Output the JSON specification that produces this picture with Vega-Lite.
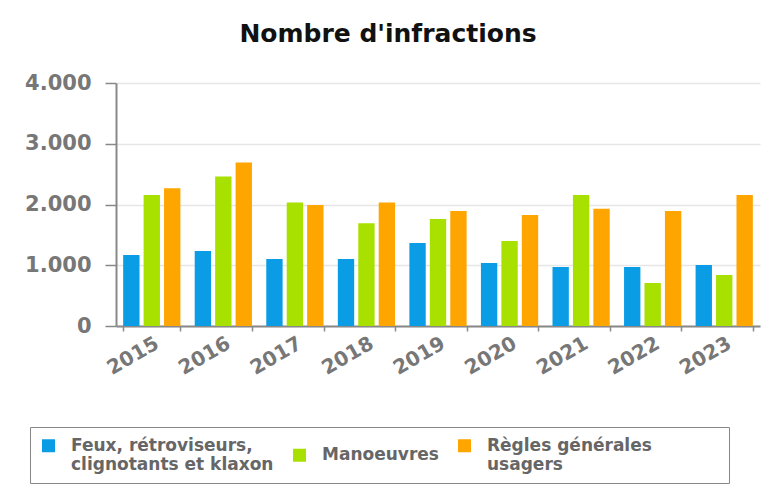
{
  "$schema": "https://vega.github.io/schema/vega-lite/v6.json",
  "width": 644,
  "height": 243,
  "autosize": {"type": "none"},
  "padding": {"left": 116, "top": 83, "right": 8, "bottom": 159},
  "background": "white",
  "title": {
    "text": "Nombre d'infractions",
    "font": "DejaVu Sans",
    "fontSize": 25,
    "fontWeight": "bold",
    "color": "#111111",
    "anchor": "middle",
    "offset": 25,
    "dx": -50
  },
  "data": {
    "values": [
      {"annee": "2015", "cat": "Feux", "n": 1170},
      {"annee": "2015", "cat": "Manoeuvres", "n": 2158},
      {"annee": "2015", "cat": "Regles", "n": 2268},
      {"annee": "2016", "cat": "Feux", "n": 1235},
      {"annee": "2016", "cat": "Manoeuvres", "n": 2460},
      {"annee": "2016", "cat": "Regles", "n": 2690},
      {"annee": "2017", "cat": "Feux", "n": 1104},
      {"annee": "2017", "cat": "Manoeuvres", "n": 2031},
      {"annee": "2017", "cat": "Regles", "n": 1993},
      {"annee": "2018", "cat": "Feux", "n": 1104},
      {"annee": "2018", "cat": "Manoeuvres", "n": 1692},
      {"annee": "2018", "cat": "Regles", "n": 2031},
      {"annee": "2019", "cat": "Feux", "n": 1367},
      {"annee": "2019", "cat": "Manoeuvres", "n": 1763},
      {"annee": "2019", "cat": "Regles", "n": 1895},
      {"annee": "2020", "cat": "Feux", "n": 1038},
      {"annee": "2020", "cat": "Manoeuvres", "n": 1400},
      {"annee": "2020", "cat": "Regles", "n": 1829},
      {"annee": "2021", "cat": "Feux", "n": 972},
      {"annee": "2021", "cat": "Manoeuvres", "n": 2158},
      {"annee": "2021", "cat": "Regles", "n": 1928},
      {"annee": "2022", "cat": "Feux", "n": 972},
      {"annee": "2022", "cat": "Manoeuvres", "n": 708},
      {"annee": "2022", "cat": "Regles", "n": 1895},
      {"annee": "2023", "cat": "Feux", "n": 1005},
      {"annee": "2023", "cat": "Manoeuvres", "n": 840},
      {"annee": "2023", "cat": "Regles", "n": 2158}
    ]
  },
  "mark": {"type": "bar"},
  "encoding": {
    "x": {
      "field": "annee",
      "type": "nominal",
      "scale": {"paddingInner": 0.2, "paddingOuter": 0.1},
      "axis": {
        "title": null,
        "labelAngle": -30,
        "labelAlign": "right",
        "labelBaseline": "top",
        "labelFont": "DejaVu Sans",
        "labelFontWeight": "bold",
        "labelFontSize": 20,
        "labelColor": "#777777",
        "labelPadding": 2,
        "domainColor": "#888888",
        "domainWidth": 2,
        "tickColor": "#888888",
        "tickSize": 5,
        "tickWidth": 1.5,
        "tickBand": "extent"
      }
    },
    "xOffset": {
      "field": "cat",
      "type": "nominal",
      "scale": {"paddingInner": 0.2, "paddingOuter": 0}
    },
    "y": {
      "field": "n",
      "type": "quantitative",
      "scale": {"domain": [0, 4000], "nice": false},
      "axis": {
        "title": null,
        "values": [0, 1000, 2000, 3000, 4000],
        "labelExpr": "replace(format(datum.value, ','), ',', '.')",
        "labelFont": "DejaVu Sans",
        "labelFontWeight": "bold",
        "labelFontSize": 21,
        "labelColor": "#777777",
        "labelPadding": 14,
        "domainColor": "#888888",
        "domainWidth": 2,
        "tickColor": "#888888",
        "tickSize": 11,
        "tickWidth": 1.5,
        "gridColor": "#e6e6e6",
        "gridWidth": 1.5
      }
    },
    "color": {
      "field": "cat",
      "type": "nominal",
      "scale": {
        "domain": ["Feux", "Manoeuvres", "Regles"],
        "range": ["#0a9de6", "#a8e000", "#ffa500"]
      },
      "legend": {
        "title": null,
        "orient": "none",
        "direction": "horizontal",
        "legendX": -86,
        "legendY": 344,
        "padding": 10,
        "strokeColor": "#888888",
        "labelExpr": "datum.value == 'Feux' ? ['Feux, rétroviseurs,', 'clignotants et klaxon'] : datum.value == 'Regles' ? ['Règles générales\u2800\u2800\u2800\u2800\u2800', 'usagers'] : 'Manoeuvres'",
        "labelFont": "DejaVu Sans",
        "labelFontWeight": "bold",
        "labelFontSize": 17,
        "labelColor": "#666666",
        "labelLimit": 400,
        "symbolType": "square",
        "symbolSize": 169,
        "symbolStrokeWidth": 0,
        "columnPadding": 17,
        "labelOffset": 14
      }
    }
  },
  "config": {"view": {"stroke": null}}
}
